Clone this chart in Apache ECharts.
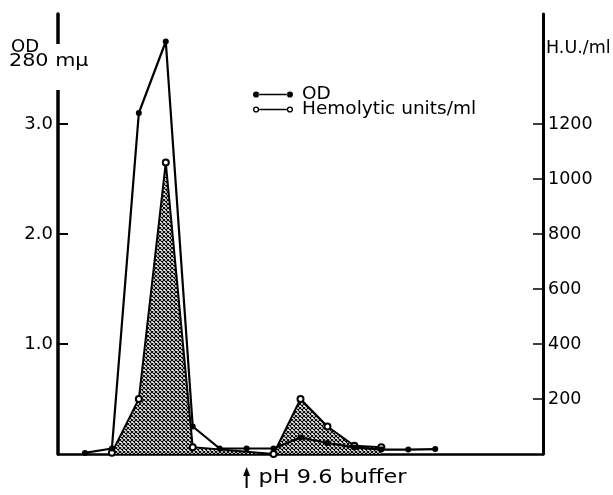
<!DOCTYPE html>
<html>
<head>
<meta charset="utf-8">
<script src="https://cdn.jsdelivr.net/npm/echarts@6/dist/echarts.min.js"></script>
<style>
html,body{margin:0;padding:0;background:#fff;}
#c{width:613px;height:495px;}
</style>
</head>
<body>
<div id="c"></div>
<script>
// ---- data ----
const fractionOD = [1, 2, 3, 4, 5, 6, 7, 8, 9, 10, 11, 12, 13, 14];
const valuesOD   = [0.01, 0.05, 3.1, 3.75, 0.25, 0.05, 0.05, 0.05, 0.15, 0.1, 0.06, 0.04, 0.04, 0.045];
const fractionHU = [2, 3, 4, 5, 8, 9, 10, 11, 12];
const valuesHU   = [5, 200, 1060, 25, 0, 200, 100, 30, 25];
const odTicks = [1, 2, 3];
const huTicks = [200, 400, 600, 800, 1000, 1200];
const bufferAtFraction = 7;
const seriesNames = ['OD', 'Hemolytic units/ml'];

const FONT = 'DejaVu Sans';

// crosshatch pattern
const pat = document.createElement('canvas');
pat.width = 4; pat.height = 4;
(function(){
  const g = pat.getContext('2d');
  g.fillStyle = '#fff'; g.fillRect(0,0,4,4);
  g.strokeStyle = '#000'; g.lineWidth = 1.1;
  g.beginPath();
  g.moveTo(-1,-1); g.lineTo(5,5);
  g.moveTo(-1,5); g.lineTo(5,-1);
  g.stroke();
})();

const iconFilled = 'path://M0.5,3.5a3,3 0 1,0 6,0a3,3 0 1,0 -6,0Z M33.5,3.5a3,3 0 1,0 6,0a3,3 0 1,0 -6,0Z M6,2.7H34V4.3H6Z';
const iconOpen = 'path://M0.5,3.5a3,3 0 1,0 6,0a3,3 0 1,0 -6,0Z M1.8,3.5a1.7,1.7 0 1,1 3.4,0a1.7,1.7 0 1,1 -3.4,0Z M33.5,3.5a3,3 0 1,0 6,0a3,3 0 1,0 -6,0Z M34.8,3.5a1.7,1.7 0 1,1 3.4,0a1.7,1.7 0 1,1 -3.4,0Z M6.6,2.7H33.4V4.3H6.6Z';

const chart = echarts.init(document.getElementById('c'), null, {renderer: 'canvas'});

const option = {
  animation: false,
  backgroundColor: '#fff',
  grid: {left: 58, right: 70, top: 14, bottom: 41, containLabel: false},
  legend: {
    orient: 'vertical',
    left: 253, top: 85, padding: 0,
    itemWidth: 40, itemHeight: 7, itemGap: -4,
    textStyle: {fontFamily: FONT, fontSize: 18.5, color: '#000', lineHeight: 15, padding: [0, 0, 0, 4]},
    data: [
      {name: seriesNames[0], icon: iconFilled, itemStyle: {borderWidth: 0}},
      {name: seriesNames[1], icon: iconOpen, itemStyle: {color: '#000', borderWidth: 0}}
    ]
  },
  xAxis: {
    type: 'value', min: 0, max: 18,
    axisLine: {show: true, onZero: false, lineStyle: {color: '#000', width: 2.5}},
    axisTick: {show: false}, axisLabel: {show: false}, splitLine: {show: false}
  },
  yAxis: [
    {
      type: 'value', min: 0, max: 4, interval: 1, position: 'left',
      axisLine: {show: true, lineStyle: {color: '#000', width: 3.5}},
      axisTick: {show: true, inside: true, length: 10, lineStyle: {color: '#000', width: 2}, customValues: odTicks},
      axisLabel: {show: true, margin: 5, fontFamily: FONT, fontSize: 18, color: '#000',
        customValues: odTicks, formatter: v => v.toFixed(1)},
      splitLine: {show: false}
    },
    {
      type: 'value', min: 0, max: 1600, interval: 200, position: 'right',
      axisLine: {show: true, lineStyle: {color: '#000', width: 3}},
      axisTick: {show: true, inside: true, length: 10, lineStyle: {color: '#000', width: 1.5}, customValues: huTicks},
      axisLabel: {show: true, margin: 5, fontFamily: FONT, fontSize: 17.5, color: '#000',
        customValues: huTicks, formatter: v => String(v)},
      splitLine: {show: false}
    }
  ],
  series: [
    {
      name: seriesNames[1], type: 'line', yAxisIndex: 1,
      data: fractionHU.map((x, i) => [x, valuesHU[i]]),
      symbol: 'emptyCircle', symbolSize: 6,
      itemStyle: {color: '#000', borderColor: '#000', borderWidth: 1.4},
      lineStyle: {color: '#000', width: 2},
      areaStyle: {color: {image: pat, repeat: 'repeat'}, opacity: 1, origin: 'start'},
      z: 2
    },
    {
      name: seriesNames[0], type: 'line', yAxisIndex: 0,
      data: fractionOD.map((x, i) => [x, valuesOD[i]]),
      symbol: 'circle', symbolSize: 6,
      itemStyle: {color: '#000'},
      lineStyle: {color: '#000', width: 2.2},
      z: 3
    }
  ]
};
chart.setOption(option);

const ax = chart.convertToPixel({xAxisIndex: 0}, bufferAtFraction);
const yBase = chart.convertToPixel({yAxisIndex: 0}, 0);

chart.setOption({
  graphic: [
    // break in left axis for the axis title
    {type: 'rect', left: 53, top: 44, shape: {width: 10, height: 46}, style: {fill: '#fff'}, z: 100},
    {type: 'text', left: 11, top: 38, z: 101,
      style: {text: 'OD', font: '18px "DejaVu Sans"', fill: '#000'}},
    {type: 'text', left: 9, top: 52, z: 101, scaleX: 1.12,
      style: {text: '280 m\u03bc', font: '18.5px "DejaVu Sans"', fill: '#000'}},
    {type: 'text', left: 546, top: 39, z: 101,
      style: {text: 'H.U./ml', font: '17.5px "DejaVu Sans"', fill: '#000'}},
    // pH 9.6 buffer arrow
    {type: 'line', z: 101, shape: {x1: ax, y1: yBase + 17, x2: ax, y2: yBase + 34},
      style: {stroke: '#000', lineWidth: 2}},
    {type: 'polygon', z: 101, shape: {points: [[ax - 3.5, yBase + 22], [ax, yBase + 13], [ax + 3.5, yBase + 22]]},
      style: {fill: '#000'}},
    {type: 'text', left: ax + 12, top: yBase + 14, z: 101, scaleX: 1.15,
      style: {text: 'pH 9.6 buffer', font: '19.5px "DejaVu Sans"', fill: '#000'}}
  ]
});
</script>
</body>
</html>
